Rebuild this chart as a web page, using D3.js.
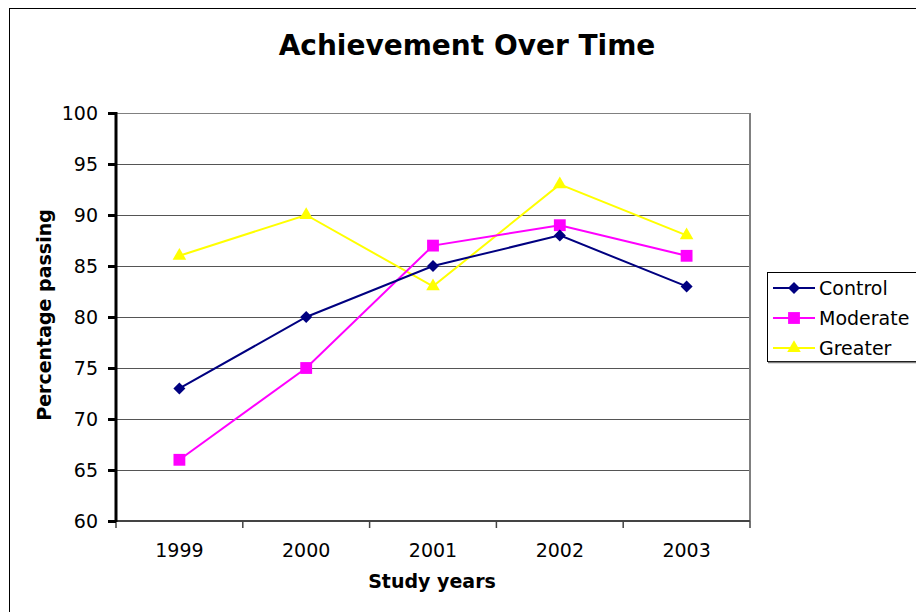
<!DOCTYPE html>
<html><head><meta charset="utf-8">
<script src="https://cdn.jsdelivr.net/npm/d3@7"></script>
<style>body{margin:0;background:#fff}svg{display:block}text{font-family:"DejaVu Sans",Verdana,sans-serif}</style>
</head><body>
<script>
const years = ["1999","2000","2001","2002","2003"];
const control = [73, 80, 85, 88, 83];
const moderate = [66, 75, 87, 89, 86];
const greater = [86, 90, 83, 93, 88];
const yTicks = [60, 65, 70, 75, 80, 85, 90, 95, 100];
const seriesNames = ["Control", "Moderate", "Greater"];

const W = 916, H = 612;
const svg = d3.select("body").append("svg").attr("width", W).attr("height", H);

svg.append("rect").attr("x", 9.5).attr("y", 8.5).attr("width", 1000).attr("height", 1000)
  .attr("fill", "#fff").attr("stroke", "#000").attr("stroke-width", 1);

const L = 116, R = 750, T = 113, B = 521;
const x = d3.scaleBand().domain(years).range([L, R]);
const y = d3.scaleLinear().domain([60, 100]).range([B, T]);
const FS = 19;

// gridlines
svg.append("g").selectAll("line").data(yTicks.filter(v => v > 60 && v < 100)).join("line")
  .attr("x1", L).attr("x2", R).attr("y1", d => Math.round(y(d)) + 0.5).attr("y2", d => Math.round(y(d)) + 0.5)
  .attr("stroke", "#555").attr("stroke-width", 1);
svg.append("line").attr("x1", L).attr("x2", R).attr("y1", T + 0.5).attr("y2", T + 0.5).attr("stroke", "#808080");
svg.append("line").attr("x1", R).attr("x2", R).attr("y1", T).attr("y2", B).attr("stroke", "#808080").attr("stroke-width", 2);

// x axis
const xAxis = d3.axisBottom(x).tickSize(0).tickPadding(23);
const gx = svg.append("g").attr("transform", `translate(0,${B})`).call(xAxis);
gx.select(".domain").remove();
gx.selectAll("text").attr("font-size", FS).attr("fill", "#000").attr("font-family", "DejaVu Sans");
svg.append("line").attr("x1", L).attr("x2", R).attr("y1", B).attr("y2", B).attr("stroke", "#444").attr("stroke-width", 2);
const bounds = years.map(d => x(d)).concat([R]);
svg.append("g").selectAll("line").data(bounds).join("line")
  .attr("x1", d => d).attr("x2", d => d).attr("y1", B).attr("y2", B + 7)
  .attr("stroke", "#444").attr("stroke-width", 1.5);

// y axis
const yAxis = d3.axisLeft(y).tickValues(yTicks).tickSize(8).tickPadding(10);
const gy = svg.append("g").attr("transform", `translate(${L},0)`).call(yAxis);
gy.select(".domain").remove();
gy.selectAll(".tick line").attr("stroke", "#000").attr("stroke-width", 3);
gy.selectAll("text").attr("font-size", FS).attr("fill", "#000").attr("font-family", "DejaVu Sans");
svg.append("line").attr("x1", L).attr("x2", L).attr("y1", T - 1).attr("y2", B + 1).attr("stroke", "#000").attr("stroke-width", 3);

// titles
svg.append("text").attr("x", 467).attr("y", 55).attr("text-anchor", "middle")
  .attr("font-size", 28).attr("font-weight", "bold").text("Achievement Over Time");
svg.append("text").attr("x", 432).attr("y", 588).attr("text-anchor", "middle")
  .attr("font-size", FS).attr("font-weight", "bold").text("Study years");
svg.append("text").attr("transform", "translate(51,315) rotate(-90)").attr("text-anchor", "middle")
  .attr("font-size", FS).attr("font-weight", "bold").text("Percentage passing");

const diamond = {draw(ctx, size) { const r = Math.sqrt(size / 2); ctx.moveTo(0, -r); ctx.lineTo(r, 0); ctx.lineTo(0, r); ctx.lineTo(-r, 0); ctx.closePath(); }};
const series = [
  {name: seriesNames[0], values: control, color: "#000080", shape: diamond, size: 72},
  {name: seriesNames[1], values: moderate, color: "#FF00FF", shape: d3.symbolSquare, size: 140},
  {name: seriesNames[2], values: greater, color: "#FFFF00", shape: d3.symbolTriangle, size: 80}
];
const cx = d => x(d) + x.bandwidth() / 2;
const line = d3.line().x(d => cx(d.year)).y(d => y(d.v));

[...series].reverse().forEach(s => {
  const pts = years.map((yr, i) => ({year: yr, v: s.values[i]}));
  svg.append("path").datum(pts).attr("d", line).attr("fill", "none")
    .attr("stroke", s.color).attr("stroke-width", 2);
  svg.append("g").selectAll("path").data(pts).join("path")
    .attr("transform", d => `translate(${cx(d.year)},${y(d.v)})`)
    .attr("d", d3.symbol().type(s.shape).size(s.size)).attr("fill", s.color);
});

// legend
const lg = svg.append("g");
lg.append("rect").attr("x", 767.5).attr("y", 272.5).attr("width", 200).attr("height", 89)
  .attr("fill", "#fff").attr("stroke", "#000").attr("stroke-width", 1);
lg.append("line").attr("x1", 768).attr("x2", 920).attr("y1", 362.5).attr("y2", 362.5).attr("stroke", "#808080").attr("stroke-width", 1.5);
series.forEach((s, i) => {
  const yy = 288 + i * 30;
  lg.append("line").attr("x1", 773).attr("x2", 815).attr("y1", yy).attr("y2", yy).attr("stroke", s.color).attr("stroke-width", 2);
  lg.append("path").attr("transform", `translate(794,${yy})`).attr("d", d3.symbol().type(s.shape).size(s.size)).attr("fill", s.color);
  lg.append("text").attr("x", 819).attr("y", yy + 7).attr("font-size", FS).text(s.name);
});
</script>
</body></html>
